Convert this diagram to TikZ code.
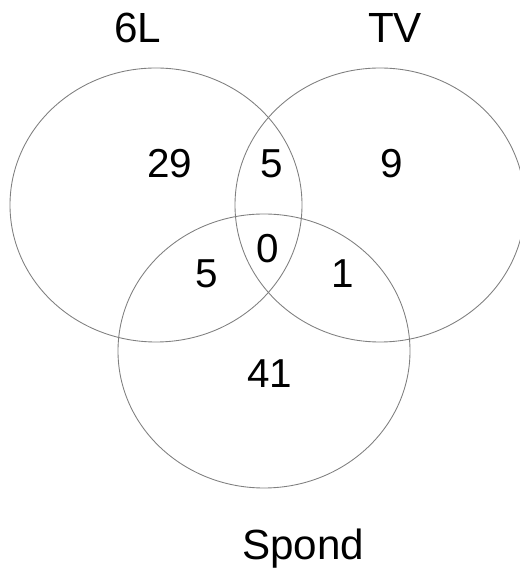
\documentclass[tikz,border=0pt]{standalone}
\usepackage{fontspec}
\setmainfont{Liberation Sans}
\usetikzlibrary{positioning}

\begin{document}
\begin{tikzpicture}[
    set/.style={draw=black!50, line width=0.5pt},
    lbl/.style={anchor=base, inner sep=0pt, font=\fontsize{24}{28}\selectfont},
    num/.style={anchor=base, inner sep=0pt, font=\fontsize{23}{27}\selectfont}
  ]
  \useasboundingbox (0,0) rectangle (10.4,11.38);
  \draw[set] (3.12,7.28) ellipse [x radius=2.92cm, y radius=2.74cm];
  \draw[set] (7.60,7.28) ellipse [x radius=2.90cm, y radius=2.74cm];
  \draw[set] (5.28,4.36) ellipse [x radius=2.92cm, y radius=2.74cm];
  \node[lbl] (sixl) at (2.76,10.52) {6L};
  \node[lbl] (tv) at (7.90,10.52) {TV};
  \node[lbl] (spond) at (6.06,0.20) {Spond};
  \node[num] (onlysixl) at (3.40,7.82) {29};
  \node[num] (sixltv) at (5.44,7.82) {5};
  \node[num] (onlytv) at (7.84,7.82) {9};
  \node[num] (all) at (5.36,6.12) {0};
  \node[num] (sixlspond) at (4.14,5.62) {5};
  \node[num] (tvspond) at (6.86,5.62) {1};
  \node[num] (onlyspond) at (5.40,3.62) {41};
\end{tikzpicture}
\end{document}
